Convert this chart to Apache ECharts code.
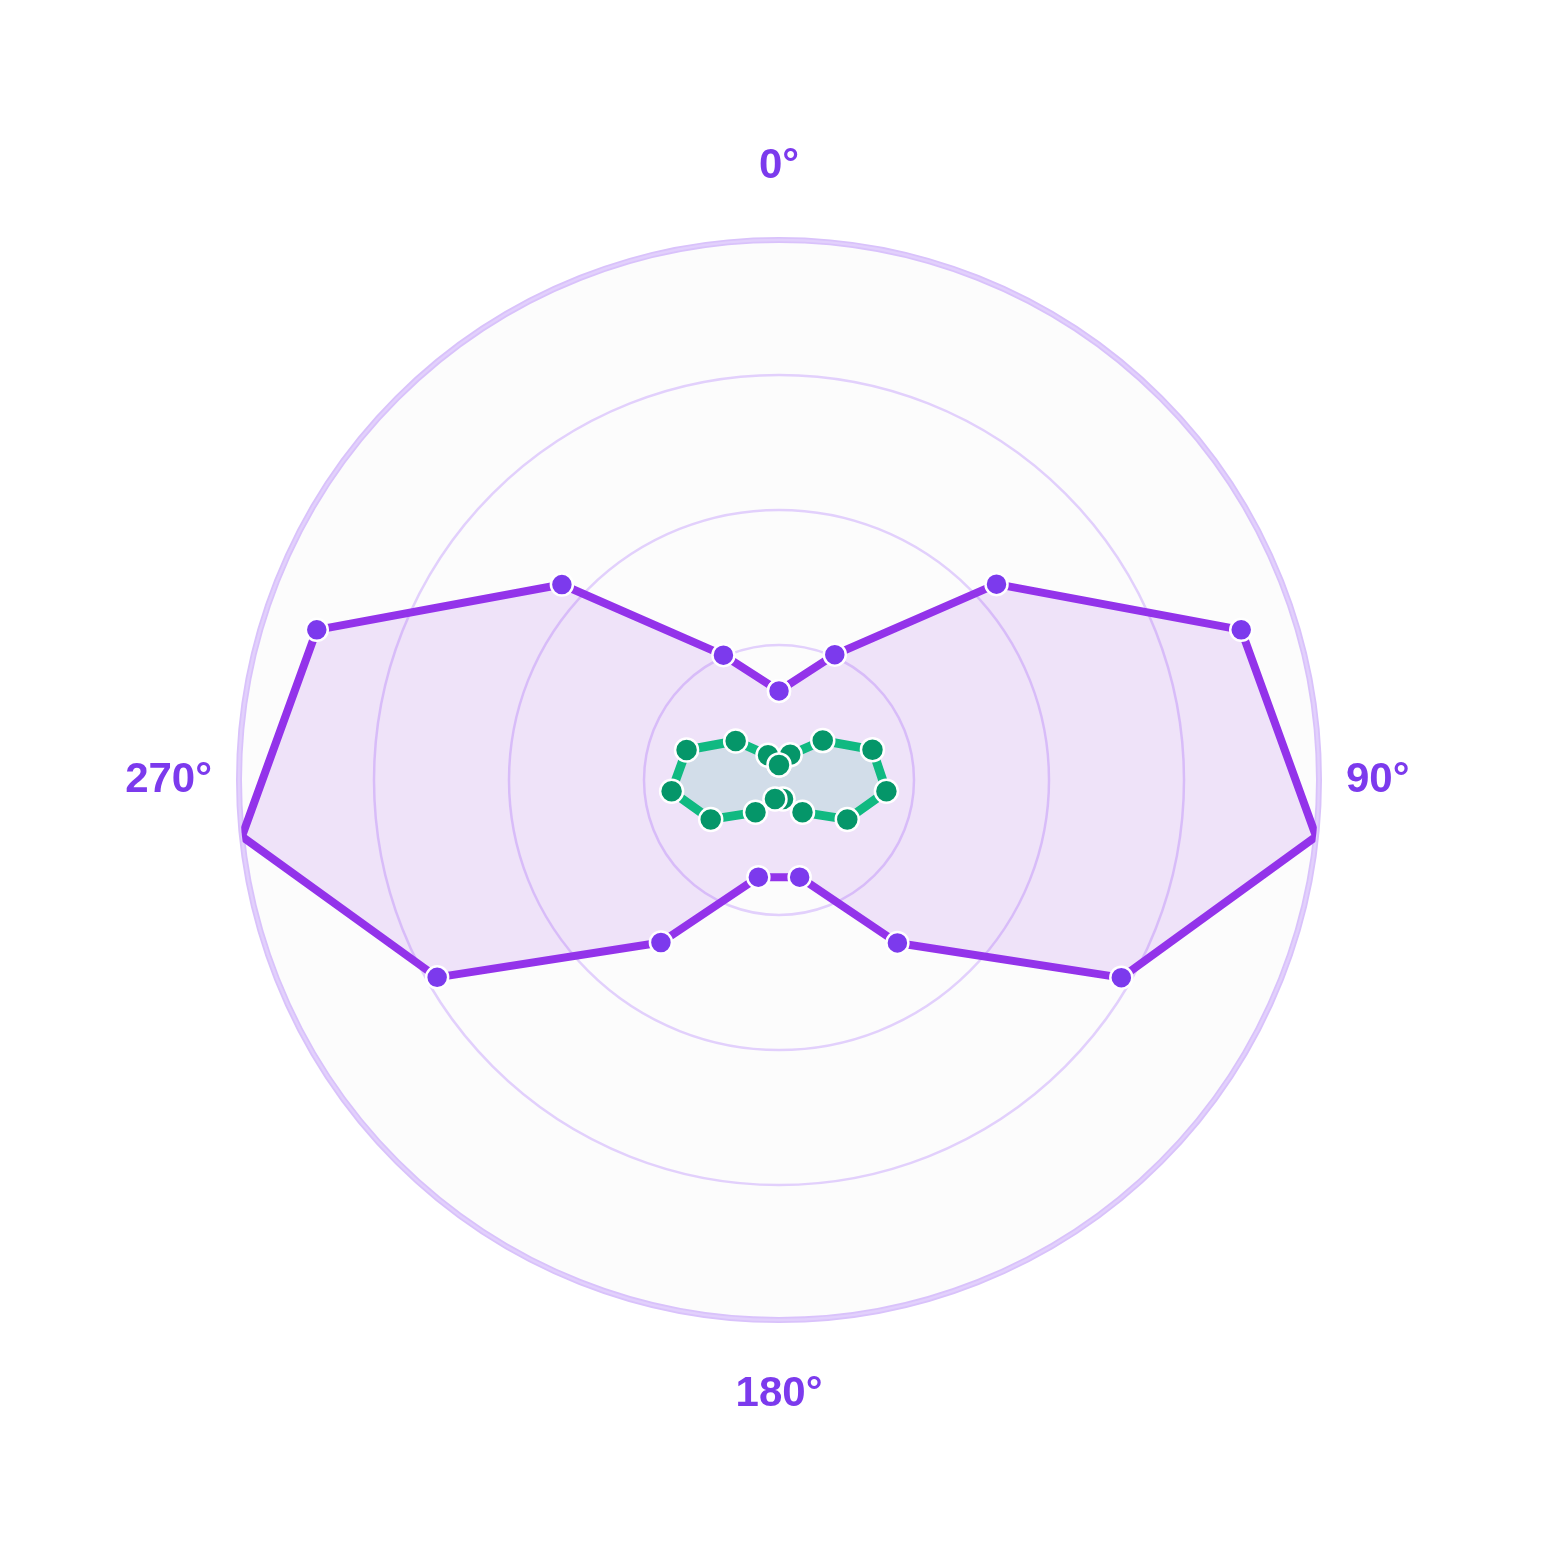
<!DOCTYPE html>
<html>
<head>
<meta charset="utf-8">
<script src="https://cdn.jsdelivr.net/npm/echarts@6/dist/echarts.min.js"></script>
<style>
  html, body { margin: 0; padding: 0; background: #ffffff; }
  #charts { width: 1560px; height: 1560px; }
</style>
</head>
<body>
<div id="charts"></div>
<script>
// 角度 (度)
const angles = [0, 24, 48, 72, 96, 120, 144, 168, 192, 216, 240, 264, 288, 312, 336]
// 外圈 (紫色)
const outerValues = [0.165, 0.254, 0.542, 0.9, 1.0, 0.732, 0.373, 0.184, 0.184, 0.372, 0.731, 1.0, 0.9, 0.541, 0.253]
// 内圈 (绿色)
const innerValues = [0.028, 0.051, 0.109, 0.182, 0.2, 0.146, 0.074, 0.036, 0.036, 0.074, 0.146, 0.2, 0.18, 0.108, 0.05]
// 角度刻度
const angleTicks = [0, 90, 180, 270]

// [半径, 角度]，最后补一个 360° 的点把图形闭合
function toPolar (values) {
  const list = angles.map((a, i) => [values[i], a])
  list.push([values[0], 360])
  return list
}

const chart = echarts.init(document.getElementById('charts'))
const option = {
  backgroundColor: '#ffffff',
  animation: false,
  polar: {
    center: [779, 780],
    radius: 540
  },
  angleAxis: {
    type: 'value',
    z: 0,
    min: angleTicks[0],
    max: 360,
    interval: angleTicks[1] - angleTicks[0],
    startAngle: 90,
    clockwise: true,
    axisLine: {
      show: true,
      lineStyle: { color: '#d9c2fb', width: 6 }
    },
    axisTick: { show: false },
    splitLine: { show: false },
    // 背景
    splitArea: {
      show: true,
      areaStyle: { color: ['#fcfcfc', '#fcfcfc'], opacity: 1 }
    },
    axisLabel: {
      formatter: '{value}°',
      margin: 27,
      // 上右下左，只把上下两个标签推远一些
      padding: [26, 0, 26, 0],
      color: '#7c3aed',
      fontSize: 42,
      fontWeight: 'bold',
      fontFamily: 'Liberation Sans, Arial, sans-serif'
    }
  },
  radiusAxis: {
    type: 'value',
    z: 1,
    min: 0,
    max: 1,
    interval: 0.25,
    axisLine: { show: false },
    axisTick: { show: false },
    axisLabel: { show: false },
    splitLine: {
      show: true,
      lineStyle: { color: '#e2d0fc', width: 2.5 }
    }
  },
  series: [
    {
      name: 'outer',
      type: 'line',
      coordinateSystem: 'polar',
      z: 3,
      data: toPolar(outerValues),
      symbol: 'circle',
      symbolSize: 22,
      lineStyle: { color: '#9333ea', width: 8 },
      itemStyle: { color: '#7c3aed', borderColor: '#ffffff', borderWidth: 2.5 },
      areaStyle: { color: '#9333ea', opacity: 0.12 }
    },
    {
      name: 'inner',
      type: 'line',
      coordinateSystem: 'polar',
      z: 4,
      data: toPolar(innerValues),
      symbol: 'circle',
      symbolSize: 23,
      lineStyle: { color: '#10b981', width: 9 },
      itemStyle: { color: '#059669', borderColor: '#ffffff', borderWidth: 2.5 },
      areaStyle: { color: '#10b981', opacity: 0.13 }
    }
  ]
}
chart.setOption(option)
</script>
</body>
</html>
